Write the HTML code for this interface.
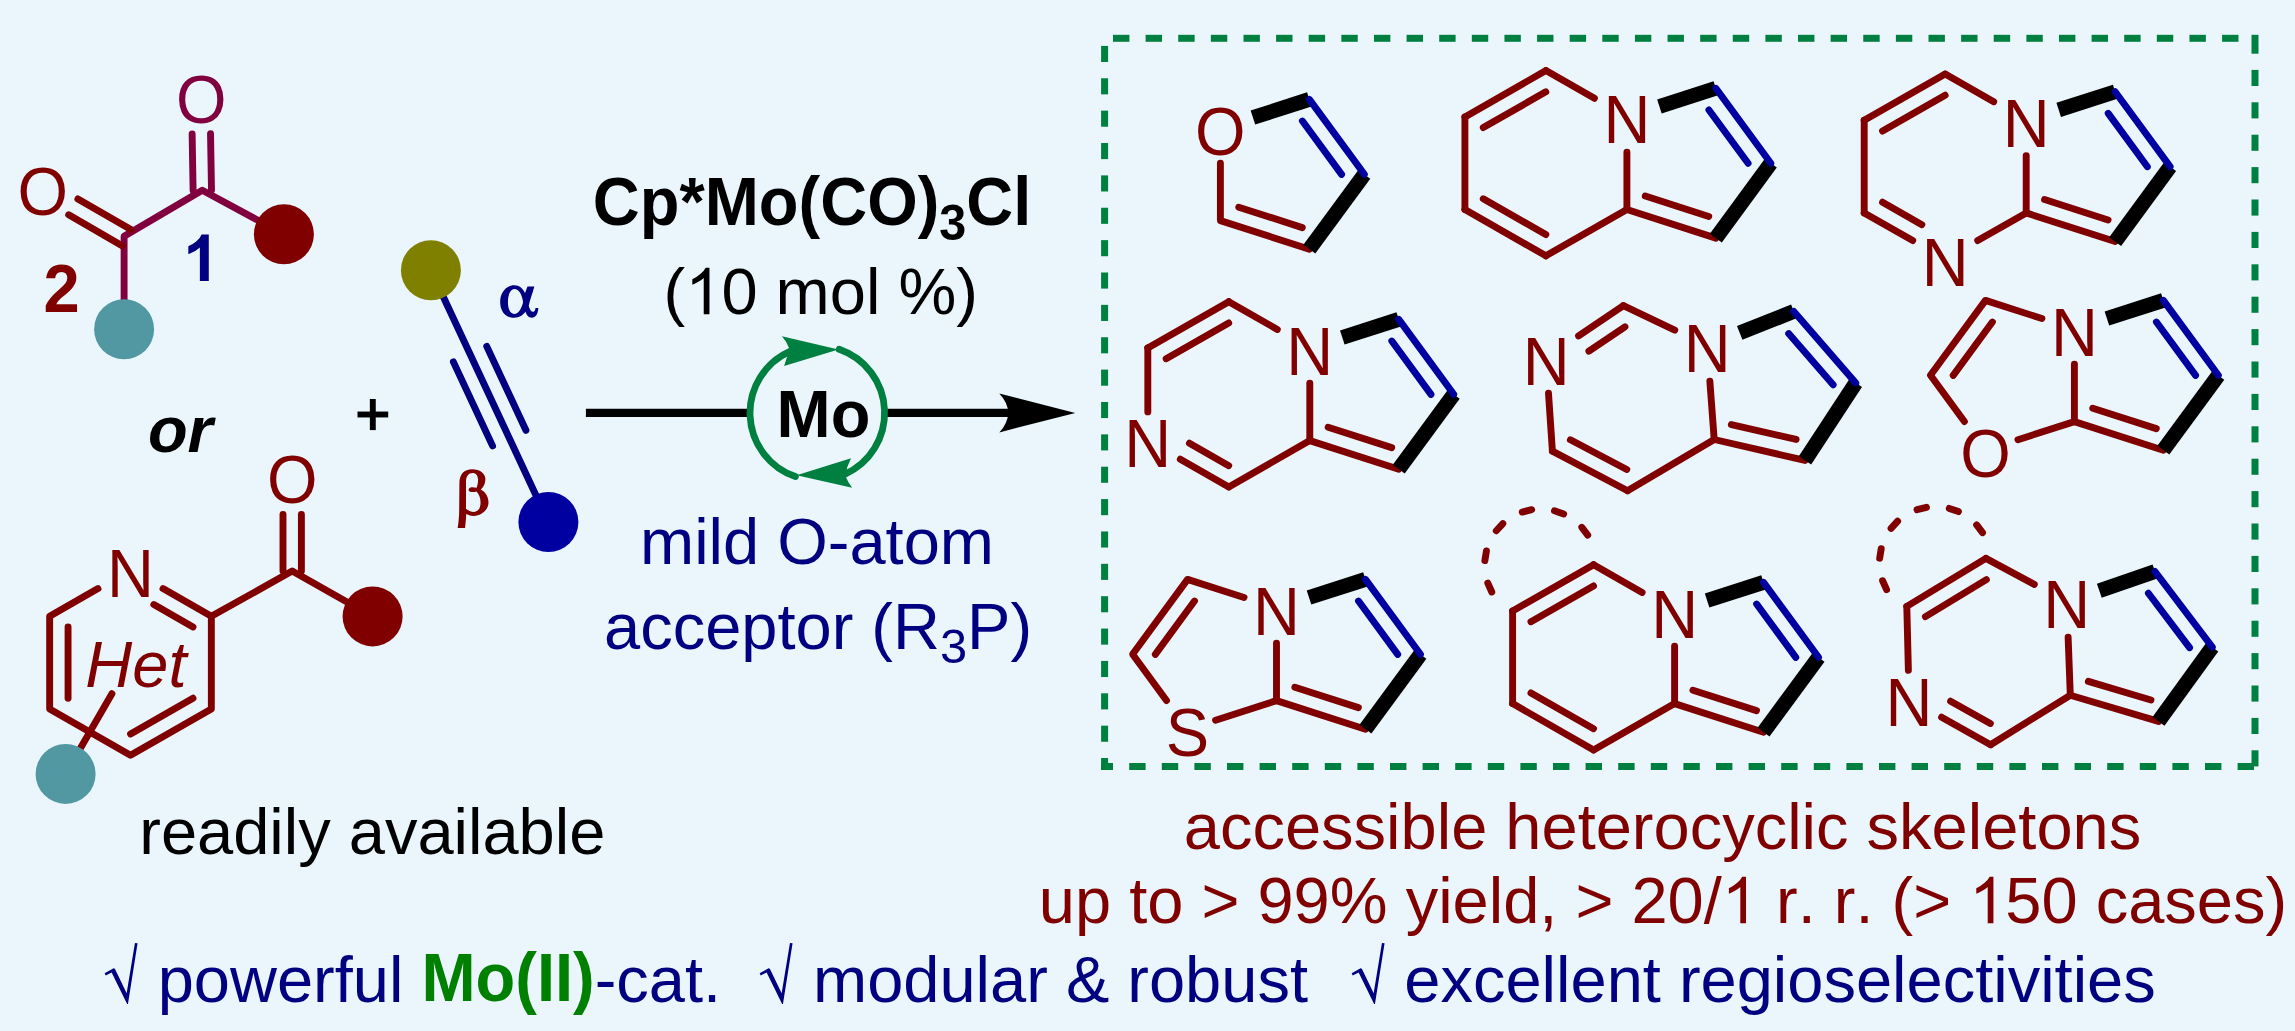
<!DOCTYPE html>
<html><head><meta charset="utf-8"><title>Graphical abstract</title>
<style>html,body{margin:0;padding:0;background:#EAF6FC;}body{width:2295px;height:1031px;overflow:hidden;font-family:"Liberation Sans",sans-serif;}svg{display:block;}text{font-kerning:none;font-variant-ligatures:none;}</style>
</head><body>
<svg width="2295" height="1031" viewBox="0 0 2295 1031">
<rect x="0" y="0" width="2295" height="1031" fill="#EAF6FC"/>
<polyline points="124.1,329.2 124.1,236.2 202.3,190.2 283.9,234.3" fill="none" stroke="#800040" stroke-width="6.9" stroke-linecap="round" stroke-linejoin="round"/>
<line x1="193.1" y1="190.36" x2="192.13" y2="133.96" stroke="#800040" stroke-width="6.9" stroke-linecap="round"/>
<line x1="211.5" y1="190.04" x2="210.52" y2="133.64" stroke="#800040" stroke-width="6.9" stroke-linecap="round"/>
<line x1="122.1" y1="245.67" x2="68.7" y2="214.84" stroke="#800000" stroke-width="6.9" stroke-linecap="round"/>
<line x1="131.3" y1="229.73" x2="77.9" y2="198.9" stroke="#800000" stroke-width="6.9" stroke-linecap="round"/>
<circle cx="283.9" cy="234.3" r="30" fill="#800000"/>
<circle cx="124.1" cy="329.2" r="30" fill="#5298A3"/>
<text x="201.2" y="121.96" fill="#800040" stroke="#800040" stroke-width="0" font-size="65" font-weight="normal" font-style="normal" text-anchor="middle" font-family='"Liberation Sans", sans-serif' transform="translate(0,99.6) scale(1,1.0407) translate(0,-99.6)">O</text>
<text x="42.8" y="214.16" fill="#800000" stroke="#800000" stroke-width="0" font-size="65" font-weight="normal" font-style="normal" text-anchor="middle" font-family='"Liberation Sans", sans-serif' transform="translate(0,191.8) scale(1,1.0407) translate(0,-191.8)">O</text>
<path d="M806 0H525V1059Q371 915 162 846V1101Q272 1137 401 1237.5T578 1472H806V0Z" fill="#000080" transform="translate(183.2,281.1) scale(0.031738,-0.031738)"/>
<text x="61.7" y="311.36" fill="#800000" stroke="#800000" stroke-width="0" font-size="65" font-weight="bold" font-style="normal" text-anchor="middle" font-family='"Liberation Sans", sans-serif' transform="translate(0,289) scale(1,1.0407) translate(0,-289)">2</text>
<text x="180.4" y="452" fill="#000000" stroke="#000000" stroke-width="0" font-size="65" font-weight="bold" font-style="italic" text-anchor="middle" font-family='"Liberation Sans", sans-serif' >or</text>
<rect x="357.5" y="411.55" width="30.7" height="5.9" fill="#000000"/>
<rect x="369.85" y="399" width="5.9" height="31.1" fill="#000000"/>
<polyline points="163,588.61 211.34,616.3 211.34,708.9 130.5,755.2 49.66,708.9 49.66,616.3 98,588.61" fill="none" stroke="#800000" stroke-width="6.9" stroke-linecap="round" stroke-linejoin="round"/>
<line x1="192.98" y1="626.99" x2="153.85" y2="604.58" stroke="#800000" stroke-width="6.9" stroke-linecap="round"/>
<line x1="192.98" y1="698.21" x2="130.57" y2="733.96" stroke="#800000" stroke-width="6.9" stroke-linecap="round"/>
<line x1="68.06" y1="698.28" x2="68.06" y2="626.92" stroke="#800000" stroke-width="6.9" stroke-linecap="round"/>
<polyline points="211.34,616.3 292.2,571.1 372.6,616.4" fill="none" stroke="#800000" stroke-width="6.9" stroke-linecap="round" stroke-linejoin="round"/>
<line x1="283" y1="571.1" x2="283" y2="514.4" stroke="#800000" stroke-width="6.9" stroke-linecap="round"/>
<line x1="301.4" y1="571.1" x2="301.4" y2="514.4" stroke="#800000" stroke-width="6.9" stroke-linecap="round"/>
<line x1="65.6" y1="773.9" x2="111.9" y2="693.71" stroke="#800000" stroke-width="6.9" stroke-linecap="round"/>
<circle cx="372.6" cy="616.4" r="30" fill="#800000"/>
<circle cx="65.6" cy="773.9" r="30" fill="#5298A3"/>
<text x="130.5" y="595.66" fill="#800000" stroke="#800000" stroke-width="0" font-size="65" font-weight="normal" font-style="normal" text-anchor="middle" font-family='"Liberation Sans", sans-serif' transform="translate(0,573.3) scale(1,1.0407) translate(0,-573.3)">N</text>
<text x="292.2" y="502.56" fill="#800000" stroke="#800000" stroke-width="0" font-size="65" font-weight="normal" font-style="normal" text-anchor="middle" font-family='"Liberation Sans", sans-serif' transform="translate(0,480.2) scale(1,1.0407) translate(0,-480.2)">O</text>
<text x="135.9" y="686.6" fill="#800000" stroke="#800000" stroke-width="0" font-size="65" font-weight="normal" font-style="italic" text-anchor="middle" font-family='"Liberation Sans", sans-serif' >Het</text>
<line x1="430.9" y1="270.2" x2="548.4" y2="522" stroke="#000080" stroke-width="6.9" stroke-linecap="round"/>
<line x1="486.74" y1="346.35" x2="525.91" y2="430.29" stroke="#000080" stroke-width="6.9" stroke-linecap="round"/>
<line x1="453.39" y1="361.91" x2="492.56" y2="445.85" stroke="#000080" stroke-width="6.9" stroke-linecap="round"/>
<circle cx="430.9" cy="270.2" r="30" fill="#808000"/>
<circle cx="548.4" cy="522" r="30" fill="#0000A0"/>
<path d="M612,340 L700,340 C680,420 640,520 628,590 C640,640 660,668 685,668 C705,668 712,645 715,620 L752,620 C748,690 720,745 668,745 C625,745 600,710 585,665 C555,715 505,745 440,745 C330,745 260,660 260,540 C260,420 335,325 440,325 C510,325 555,370 580,425 Z M445,375 C395,375 360,440 360,540 C360,640 395,695 445,695 C495,695 535,630 555,545 C545,450 500,375 445,375 Z" fill="#000080" fill-rule="evenodd" transform="translate(480,260) scale(0.077595)"/>
<path d="M182,803 L258,803 C265,740 270,700 270,660 C300,675 325,682 350,680 C420,678 500,620 500,540 C500,480 465,430 420,408 C450,385 468,345 468,300 C468,240 410,198 330,198 C250,198 200,250 200,340 L198,600 C198,680 192,740 182,803 Z M268,605 C290,625 320,638 350,638 C395,638 418,595 418,540 C418,490 400,450 375,428 C350,435 320,435 305,428 C290,420 292,395 310,388 C330,380 355,385 378,388 C388,360 392,335 392,310 C392,265 370,238 335,238 C295,238 270,270 268,320 Z" fill="#800000" fill-rule="evenodd" transform="translate(440,450) scale(0.097012)"/>
<line x1="585.9" y1="412.9" x2="748" y2="412.9" stroke="#000000" stroke-width="8.2" stroke-linecap="butt"/>
<line x1="887" y1="412.9" x2="1012" y2="412.9" stroke="#000000" stroke-width="8.2" stroke-linecap="butt"/>
<path d="M1075.3,412.9 L999.3,393.4 Q1007.5,402.0 1008.4,412.9 Q1007.5,423.79999999999995 999.3,432.4 Z" fill="#000000"/>
<path d="M839.21,349.27 A67.3,67.3 0 0 1 844.67,474.38" fill="none" stroke="#008040" stroke-width="6.8" stroke-linecap="round"/>
<path d="M795.39,476.53 A67.3,67.3 0 0 1 789.93,351.42" fill="none" stroke="#008040" stroke-width="6.8" stroke-linecap="round"/>
<path d="M838.5,349.5 L781.9,336.3 Q787,342 789.1,348.3 Q787.5,357 784.1,366 Z" fill="#008040"/>
<path d="M796.6,475.2 L851,458.2 Q846.5,467 845.3,475.9 Q848,482 852.1,487.7 Z" fill="#008040"/>
<text x="823.5" y="436.7" fill="#000000" stroke="#000000" stroke-width="0" font-size="65" font-weight="bold" font-style="normal" text-anchor="middle" font-family='"Liberation Sans", sans-serif' transform="translate(0,436.7) scale(1,1.0150) translate(0,-436.7)">Mo</text>
<text x="592.8" y="224.8" fill="#000000" font-size="65" font-weight="bold" font-family='"Liberation Sans", sans-serif' transform="translate(0,224.8) scale(1,1.0407) translate(0,-224.8)">Cp*Mo(CO)<tspan font-size="48.5" dy="14.5">3</tspan><tspan dy="-14.5">Cl</tspan></text>
<text x="663.58" y="314.3" fill="#000000" stroke="#000000" stroke-width="0" font-size="65" font-weight="normal" font-style="normal" text-anchor="start" font-family='"Liberation Sans", sans-serif' xml:space="preserve">(</text>
<path d="M763 0H583V1147Q518 1085 412.5 1023T223 930V1104Q373 1174.5 485 1275T644 1470H763V0Z" fill="#000000" transform="translate(685.23,314.3) scale(0.031738,-0.031738)"/>
<text x="721.38" y="314.3" fill="#000000" stroke="#000000" stroke-width="0" font-size="65" font-weight="normal" font-style="normal" text-anchor="start" font-family='"Liberation Sans", sans-serif' xml:space="preserve">0 mol %)</text>
<text x="817" y="563.6" fill="#000080" stroke="#000080" stroke-width="0" font-size="65" font-weight="normal" font-style="normal" text-anchor="middle" font-family='"Liberation Sans", sans-serif' >mild O-atom</text>
<text x="604" y="649.3" fill="#000080" font-size="65" font-family='"Liberation Sans", sans-serif'>acceptor (R<tspan font-size="48.75" dy="14">3</tspan><tspan dy="-14">P)</tspan></text>
<text x="372.3" y="854.2" fill="#000000" stroke="#000000" stroke-width="0" font-size="65" font-weight="normal" font-style="normal" text-anchor="middle" font-family='"Liberation Sans", sans-serif' >readily available</text>
<text x="1662.5" y="848.8" fill="#800000" stroke="#800000" stroke-width="0" font-size="65" font-weight="normal" font-style="normal" text-anchor="middle" font-family='"Liberation Sans", sans-serif' >accessible heterocyclic skeletons</text>
<text x="1038.83" y="923.3" fill="#800000" stroke="#800000" stroke-width="0" font-size="65" font-weight="normal" font-style="normal" text-anchor="start" font-family='"Liberation Sans", sans-serif' xml:space="preserve">up to &gt; 99% yield, &gt; 20/</text>
<path d="M763 0H583V1147Q518 1085 412.5 1023T223 930V1104Q373 1174.5 485 1275T644 1470H763V0Z" fill="#800000" transform="translate(1721.81,923.3) scale(0.031738,-0.031738)"/>
<text x="1757.96" y="923.3" fill="#800000" stroke="#800000" stroke-width="0" font-size="65" font-weight="normal" font-style="normal" text-anchor="start" font-family='"Liberation Sans", sans-serif' xml:space="preserve"> r. r. (&gt; </text>
<path d="M763 0H583V1147Q518 1085 412.5 1023T223 930V1104Q373 1174.5 485 1275T644 1470H763V0Z" fill="#800000" transform="translate(1969.21,923.3) scale(0.031738,-0.031738)"/>
<text x="2005.36" y="923.3" fill="#800000" stroke="#800000" stroke-width="0" font-size="65" font-weight="normal" font-style="normal" text-anchor="start" font-family='"Liberation Sans", sans-serif' xml:space="preserve">50 cases)</text>
<polygon points="104.66,973.37 113.56,968.13 114.87,968.83 126.65,993.26 134.94,942.91 137.56,943.26 127.96,1004 127.09,1004 111.64,972.5 105.71,975.38" fill="#000080"/>
<text x="157.7" y="1001.5" fill="#000080" stroke="#000080" stroke-width="0" font-size="65" font-weight="normal" font-style="normal" text-anchor="start" font-family='"Liberation Sans", sans-serif' >powerful</text>
<text x="421.45" y="1001.5" fill="#008000" stroke="#008000" stroke-width="0" font-size="65" font-weight="bold" font-style="normal" text-anchor="start" font-family='"Liberation Sans", sans-serif' transform="translate(0,1001.5) scale(1,1.0407) translate(0,-1001.5)">Mo(II)</text>
<text x="594.7" y="1001.5" fill="#000080" stroke="#000080" stroke-width="0" font-size="65" font-weight="normal" font-style="normal" text-anchor="start" font-family='"Liberation Sans", sans-serif' >-cat.</text>
<polygon points="759.66,973.37 768.56,968.13 769.87,968.83 781.65,993.26 789.94,942.91 792.56,943.26 782.96,1004 782.09,1004 766.64,972.5 760.71,975.38" fill="#000080"/>
<text x="813" y="1001.5" fill="#000080" stroke="#000080" stroke-width="0" font-size="65" font-weight="normal" font-style="normal" text-anchor="start" font-family='"Liberation Sans", sans-serif' >modular &amp; robust</text>
<polygon points="1351.66,973.37 1360.56,968.13 1361.87,968.83 1373.65,993.26 1381.94,942.91 1384.56,943.26 1374.96,1004 1374.09,1004 1358.64,972.5 1352.71,975.38" fill="#000080"/>
<text x="1404.3" y="1001.5" fill="#000080" stroke="#000080" stroke-width="0" font-size="65" font-weight="normal" font-style="normal" text-anchor="start" font-family='"Liberation Sans", sans-serif' >excellent regioselectivities</text>
<rect x="1113" y="34.8" width="16.4" height="7" fill="#008040"/>
<rect x="1145.62" y="34.8" width="16.4" height="7" fill="#008040"/>
<rect x="1178.24" y="34.8" width="16.4" height="7" fill="#008040"/>
<rect x="1210.86" y="34.8" width="16.4" height="7" fill="#008040"/>
<rect x="1243.48" y="34.8" width="16.4" height="7" fill="#008040"/>
<rect x="1276.1" y="34.8" width="16.4" height="7" fill="#008040"/>
<rect x="1308.72" y="34.8" width="16.4" height="7" fill="#008040"/>
<rect x="1341.34" y="34.8" width="16.4" height="7" fill="#008040"/>
<rect x="1373.96" y="34.8" width="16.4" height="7" fill="#008040"/>
<rect x="1406.58" y="34.8" width="16.4" height="7" fill="#008040"/>
<rect x="1439.2" y="34.8" width="16.4" height="7" fill="#008040"/>
<rect x="1471.82" y="34.8" width="16.4" height="7" fill="#008040"/>
<rect x="1504.44" y="34.8" width="16.4" height="7" fill="#008040"/>
<rect x="1537.06" y="34.8" width="16.4" height="7" fill="#008040"/>
<rect x="1569.68" y="34.8" width="16.4" height="7" fill="#008040"/>
<rect x="1602.3" y="34.8" width="16.4" height="7" fill="#008040"/>
<rect x="1634.92" y="34.8" width="16.4" height="7" fill="#008040"/>
<rect x="1667.54" y="34.8" width="16.4" height="7" fill="#008040"/>
<rect x="1700.16" y="34.8" width="16.4" height="7" fill="#008040"/>
<rect x="1732.78" y="34.8" width="16.4" height="7" fill="#008040"/>
<rect x="1765.4" y="34.8" width="16.4" height="7" fill="#008040"/>
<rect x="1798.02" y="34.8" width="16.4" height="7" fill="#008040"/>
<rect x="1830.64" y="34.8" width="16.4" height="7" fill="#008040"/>
<rect x="1863.26" y="34.8" width="16.4" height="7" fill="#008040"/>
<rect x="1895.88" y="34.8" width="16.4" height="7" fill="#008040"/>
<rect x="1928.5" y="34.8" width="16.4" height="7" fill="#008040"/>
<rect x="1961.12" y="34.8" width="16.4" height="7" fill="#008040"/>
<rect x="1993.74" y="34.8" width="16.4" height="7" fill="#008040"/>
<rect x="2026.36" y="34.8" width="16.4" height="7" fill="#008040"/>
<rect x="2058.98" y="34.8" width="16.4" height="7" fill="#008040"/>
<rect x="2091.6" y="34.8" width="16.4" height="7" fill="#008040"/>
<rect x="2124.22" y="34.8" width="16.4" height="7" fill="#008040"/>
<rect x="2156.84" y="34.8" width="16.4" height="7" fill="#008040"/>
<rect x="2189.46" y="34.8" width="16.4" height="7" fill="#008040"/>
<rect x="2222.08" y="34.8" width="16.4" height="7" fill="#008040"/>
<rect x="2251.5" y="34.8" width="7" height="18.9" fill="#008040"/>
<rect x="2251.5" y="69.9" width="7" height="16.1" fill="#008040"/>
<rect x="2251.5" y="102.3" width="7" height="16.1" fill="#008040"/>
<rect x="2251.5" y="134.7" width="7" height="16.1" fill="#008040"/>
<rect x="2251.5" y="167.1" width="7" height="16.1" fill="#008040"/>
<rect x="2251.5" y="199.5" width="7" height="16.1" fill="#008040"/>
<rect x="2251.5" y="231.9" width="7" height="16.1" fill="#008040"/>
<rect x="2251.5" y="264.3" width="7" height="16.1" fill="#008040"/>
<rect x="2251.5" y="296.7" width="7" height="16.1" fill="#008040"/>
<rect x="2251.5" y="329.1" width="7" height="16.1" fill="#008040"/>
<rect x="2251.5" y="361.5" width="7" height="16.1" fill="#008040"/>
<rect x="2251.5" y="393.9" width="7" height="16.1" fill="#008040"/>
<rect x="2251.5" y="426.3" width="7" height="16.1" fill="#008040"/>
<rect x="2251.5" y="458.7" width="7" height="16.1" fill="#008040"/>
<rect x="2251.5" y="491.1" width="7" height="16.1" fill="#008040"/>
<rect x="2251.5" y="523.5" width="7" height="16.1" fill="#008040"/>
<rect x="2251.5" y="555.9" width="7" height="16.1" fill="#008040"/>
<rect x="2251.5" y="588.3" width="7" height="16.1" fill="#008040"/>
<rect x="2251.5" y="620.7" width="7" height="16.1" fill="#008040"/>
<rect x="2251.5" y="653.1" width="7" height="16.1" fill="#008040"/>
<rect x="2251.5" y="685.5" width="7" height="16.1" fill="#008040"/>
<rect x="2251.5" y="717.9" width="7" height="16.1" fill="#008040"/>
<rect x="2251.5" y="750.3" width="7" height="16.1" fill="#008040"/>
<rect x="1129.2" y="763" width="16.4" height="7" fill="#008040"/>
<rect x="1161.8" y="763" width="16.4" height="7" fill="#008040"/>
<rect x="1194.4" y="763" width="16.4" height="7" fill="#008040"/>
<rect x="1227" y="763" width="16.4" height="7" fill="#008040"/>
<rect x="1259.6" y="763" width="16.4" height="7" fill="#008040"/>
<rect x="1292.2" y="763" width="16.4" height="7" fill="#008040"/>
<rect x="1324.8" y="763" width="16.4" height="7" fill="#008040"/>
<rect x="1357.4" y="763" width="16.4" height="7" fill="#008040"/>
<rect x="1390" y="763" width="16.4" height="7" fill="#008040"/>
<rect x="1422.6" y="763" width="16.4" height="7" fill="#008040"/>
<rect x="1455.2" y="763" width="16.4" height="7" fill="#008040"/>
<rect x="1487.8" y="763" width="16.4" height="7" fill="#008040"/>
<rect x="1520.4" y="763" width="16.4" height="7" fill="#008040"/>
<rect x="1553" y="763" width="16.4" height="7" fill="#008040"/>
<rect x="1585.6" y="763" width="16.4" height="7" fill="#008040"/>
<rect x="1618.2" y="763" width="16.4" height="7" fill="#008040"/>
<rect x="1650.8" y="763" width="16.4" height="7" fill="#008040"/>
<rect x="1683.4" y="763" width="16.4" height="7" fill="#008040"/>
<rect x="1716" y="763" width="16.4" height="7" fill="#008040"/>
<rect x="1748.6" y="763" width="16.4" height="7" fill="#008040"/>
<rect x="1781.2" y="763" width="16.4" height="7" fill="#008040"/>
<rect x="1813.8" y="763" width="16.4" height="7" fill="#008040"/>
<rect x="1846.4" y="763" width="16.4" height="7" fill="#008040"/>
<rect x="1879" y="763" width="16.4" height="7" fill="#008040"/>
<rect x="1911.6" y="763" width="16.4" height="7" fill="#008040"/>
<rect x="1944.2" y="763" width="16.4" height="7" fill="#008040"/>
<rect x="1976.8" y="763" width="16.4" height="7" fill="#008040"/>
<rect x="2009.4" y="763" width="16.4" height="7" fill="#008040"/>
<rect x="2042" y="763" width="16.4" height="7" fill="#008040"/>
<rect x="2074.6" y="763" width="16.4" height="7" fill="#008040"/>
<rect x="2107.2" y="763" width="16.4" height="7" fill="#008040"/>
<rect x="2139.8" y="763" width="16.4" height="7" fill="#008040"/>
<rect x="2172.4" y="763" width="16.4" height="7" fill="#008040"/>
<rect x="2205" y="763" width="16.4" height="7" fill="#008040"/>
<rect x="2237.6" y="763" width="16.4" height="7" fill="#008040"/>
<rect x="1101.1" y="763" width="11.9" height="7" fill="#008040"/>
<rect x="1101.1" y="45.9" width="7" height="16.1" fill="#008040"/>
<rect x="1101.1" y="78.27" width="7" height="16.1" fill="#008040"/>
<rect x="1101.1" y="110.64" width="7" height="16.1" fill="#008040"/>
<rect x="1101.1" y="143.01" width="7" height="16.1" fill="#008040"/>
<rect x="1101.1" y="175.38" width="7" height="16.1" fill="#008040"/>
<rect x="1101.1" y="207.75" width="7" height="16.1" fill="#008040"/>
<rect x="1101.1" y="240.12" width="7" height="16.1" fill="#008040"/>
<rect x="1101.1" y="272.49" width="7" height="16.1" fill="#008040"/>
<rect x="1101.1" y="304.86" width="7" height="16.1" fill="#008040"/>
<rect x="1101.1" y="337.23" width="7" height="16.1" fill="#008040"/>
<rect x="1101.1" y="369.6" width="7" height="16.1" fill="#008040"/>
<rect x="1101.1" y="401.97" width="7" height="16.1" fill="#008040"/>
<rect x="1101.1" y="434.34" width="7" height="16.1" fill="#008040"/>
<rect x="1101.1" y="466.71" width="7" height="16.1" fill="#008040"/>
<rect x="1101.1" y="499.08" width="7" height="16.1" fill="#008040"/>
<rect x="1101.1" y="531.45" width="7" height="16.1" fill="#008040"/>
<rect x="1101.1" y="563.82" width="7" height="16.1" fill="#008040"/>
<rect x="1101.1" y="596.19" width="7" height="16.1" fill="#008040"/>
<rect x="1101.1" y="628.56" width="7" height="16.1" fill="#008040"/>
<rect x="1101.1" y="660.93" width="7" height="16.1" fill="#008040"/>
<rect x="1101.1" y="693.3" width="7" height="16.1" fill="#008040"/>
<rect x="1101.1" y="725.67" width="7" height="16.1" fill="#008040"/>
<rect x="1101.1" y="758" width="7" height="12" fill="#008040"/>
<polyline points="1220.4,163.3 1220.4,220.6 1309.35,249.21" fill="none" stroke="#800000" stroke-width="6.9" stroke-linecap="round" stroke-linejoin="round"/>
<line x1="1238.76" y1="207.18" x2="1302.26" y2="227.61" stroke="#800000" stroke-width="6.9" stroke-linecap="round"/>
<polygon points="1255.17,124.59 1311.61,106.43 1307.08,92.34 1250.63,110.5" fill="#000000"/>
<polygon points="1358.36,169.92 1303.38,244.84 1315.31,253.59 1370.29,178.68" fill="#000000"/>
<line x1="1309.35" y1="99.39" x2="1364.32" y2="174.3" stroke="#0000A0" stroke-width="6.9" stroke-linecap="round"/>
<line x1="1302.42" y1="121.05" x2="1341.58" y2="174.41" stroke="#0000A0" stroke-width="6.9" stroke-linecap="round"/>
<text x="1220.4" y="153.66" fill="#800000" stroke="#800000" stroke-width="0" font-size="65" font-weight="normal" font-style="normal" text-anchor="middle" font-family='"Liberation Sans", sans-serif' transform="translate(0,131.3) scale(1,1.0407) translate(0,-131.3)">O</text>
<line x1="1594.4" y1="98.32" x2="1545.9" y2="70.6" stroke="#800000" stroke-width="6.9" stroke-linecap="round"/>
<line x1="1545.9" y1="70.6" x2="1464.91" y2="116.9" stroke="#800000" stroke-width="6.9" stroke-linecap="round"/>
<line x1="1545.82" y1="91.84" x2="1483.26" y2="127.61" stroke="#800000" stroke-width="6.9" stroke-linecap="round"/>
<line x1="1464.91" y1="116.9" x2="1464.91" y2="209.5" stroke="#800000" stroke-width="6.9" stroke-linecap="round"/>
<line x1="1464.91" y1="209.5" x2="1545.9" y2="255.8" stroke="#800000" stroke-width="6.9" stroke-linecap="round"/>
<line x1="1483.26" y1="198.79" x2="1545.82" y2="234.56" stroke="#800000" stroke-width="6.9" stroke-linecap="round"/>
<line x1="1545.9" y1="255.8" x2="1626.9" y2="209.5" stroke="#800000" stroke-width="6.9" stroke-linecap="round"/>
<line x1="1626.9" y1="209.5" x2="1715.85" y2="238.11" stroke="#800000" stroke-width="6.9" stroke-linecap="round"/>
<line x1="1645.26" y1="196.08" x2="1708.76" y2="216.51" stroke="#800000" stroke-width="6.9" stroke-linecap="round"/>
<line x1="1626.9" y1="209.5" x2="1626.9" y2="152.2" stroke="#800000" stroke-width="6.9" stroke-linecap="round"/>
<polygon points="1661.67,113.49 1718.11,95.33 1713.58,81.24 1657.13,99.4" fill="#000000"/>
<polygon points="1764.86,158.82 1709.88,233.74 1721.81,242.49 1776.79,167.58" fill="#000000"/>
<line x1="1715.85" y1="88.29" x2="1770.82" y2="163.2" stroke="#0000A0" stroke-width="6.9" stroke-linecap="round"/>
<line x1="1708.92" y1="109.95" x2="1748.08" y2="163.31" stroke="#0000A0" stroke-width="6.9" stroke-linecap="round"/>
<text x="1626.9" y="142.56" fill="#800000" stroke="#800000" stroke-width="0" font-size="65" font-weight="normal" font-style="normal" text-anchor="middle" font-family='"Liberation Sans", sans-serif' transform="translate(0,120.2) scale(1,1.0407) translate(0,-120.2)">N</text>
<line x1="1993.7" y1="101.72" x2="1945.2" y2="74" stroke="#800000" stroke-width="6.9" stroke-linecap="round"/>
<line x1="1945.2" y1="74" x2="1864.21" y2="120.3" stroke="#800000" stroke-width="6.9" stroke-linecap="round"/>
<line x1="1945.12" y1="95.24" x2="1882.56" y2="131.01" stroke="#800000" stroke-width="6.9" stroke-linecap="round"/>
<line x1="1864.21" y1="120.3" x2="1864.21" y2="212.9" stroke="#800000" stroke-width="6.9" stroke-linecap="round"/>
<line x1="1864.21" y1="212.9" x2="1912.7" y2="240.62" stroke="#800000" stroke-width="6.9" stroke-linecap="round"/>
<line x1="1882.56" y1="202.19" x2="1921.84" y2="224.65" stroke="#800000" stroke-width="6.9" stroke-linecap="round"/>
<line x1="1977.7" y1="240.62" x2="2026.2" y2="212.9" stroke="#800000" stroke-width="6.9" stroke-linecap="round"/>
<line x1="2026.2" y1="212.9" x2="2115.15" y2="241.51" stroke="#800000" stroke-width="6.9" stroke-linecap="round"/>
<line x1="2044.56" y1="199.48" x2="2108.06" y2="219.91" stroke="#800000" stroke-width="6.9" stroke-linecap="round"/>
<line x1="2026.2" y1="212.9" x2="2026.2" y2="155.6" stroke="#800000" stroke-width="6.9" stroke-linecap="round"/>
<polygon points="2060.97,116.89 2117.41,98.73 2112.88,84.64 2056.43,102.8" fill="#000000"/>
<polygon points="2164.16,162.22 2109.18,237.14 2121.11,245.89 2176.09,170.98" fill="#000000"/>
<line x1="2115.15" y1="91.69" x2="2170.12" y2="166.6" stroke="#0000A0" stroke-width="6.9" stroke-linecap="round"/>
<line x1="2108.22" y1="113.35" x2="2147.38" y2="166.71" stroke="#0000A0" stroke-width="6.9" stroke-linecap="round"/>
<text x="2026.2" y="145.96" fill="#800000" stroke="#800000" stroke-width="0" font-size="65" font-weight="normal" font-style="normal" text-anchor="middle" font-family='"Liberation Sans", sans-serif' transform="translate(0,123.6) scale(1,1.0407) translate(0,-123.6)">N</text>
<text x="1945.2" y="284.86" fill="#800000" stroke="#800000" stroke-width="0" font-size="65" font-weight="normal" font-style="normal" text-anchor="middle" font-family='"Liberation Sans", sans-serif' transform="translate(0,262.5) scale(1,1.0407) translate(0,-262.5)">N</text>
<line x1="1277.3" y1="329.42" x2="1228.8" y2="301.7" stroke="#800000" stroke-width="6.9" stroke-linecap="round"/>
<line x1="1228.8" y1="301.7" x2="1147.81" y2="348" stroke="#800000" stroke-width="6.9" stroke-linecap="round"/>
<line x1="1228.72" y1="322.94" x2="1166.16" y2="358.71" stroke="#800000" stroke-width="6.9" stroke-linecap="round"/>
<line x1="1147.81" y1="348" x2="1147.81" y2="411.9" stroke="#800000" stroke-width="6.9" stroke-linecap="round"/>
<line x1="1180.31" y1="459.18" x2="1228.8" y2="486.9" stroke="#800000" stroke-width="6.9" stroke-linecap="round"/>
<line x1="1189.44" y1="443.2" x2="1228.72" y2="465.66" stroke="#800000" stroke-width="6.9" stroke-linecap="round"/>
<line x1="1228.8" y1="486.9" x2="1309.8" y2="440.6" stroke="#800000" stroke-width="6.9" stroke-linecap="round"/>
<line x1="1309.8" y1="440.6" x2="1398.75" y2="469.21" stroke="#800000" stroke-width="6.9" stroke-linecap="round"/>
<line x1="1328.16" y1="427.18" x2="1391.66" y2="447.61" stroke="#800000" stroke-width="6.9" stroke-linecap="round"/>
<line x1="1309.8" y1="440.6" x2="1309.8" y2="383.3" stroke="#800000" stroke-width="6.9" stroke-linecap="round"/>
<polygon points="1344.57,344.59 1401.01,326.43 1396.48,312.34 1340.03,330.5" fill="#000000"/>
<polygon points="1447.76,389.92 1392.78,464.84 1404.71,473.59 1459.69,398.68" fill="#000000"/>
<line x1="1398.75" y1="319.39" x2="1453.72" y2="394.3" stroke="#0000A0" stroke-width="6.9" stroke-linecap="round"/>
<line x1="1391.82" y1="341.05" x2="1430.98" y2="394.41" stroke="#0000A0" stroke-width="6.9" stroke-linecap="round"/>
<text x="1309.8" y="373.66" fill="#800000" stroke="#800000" stroke-width="0" font-size="65" font-weight="normal" font-style="normal" text-anchor="middle" font-family='"Liberation Sans", sans-serif' transform="translate(0,351.3) scale(1,1.0407) translate(0,-351.3)">N</text>
<text x="1147.81" y="466.26" fill="#800000" stroke="#800000" stroke-width="0" font-size="65" font-weight="normal" font-style="normal" text-anchor="middle" font-family='"Liberation Sans", sans-serif' transform="translate(0,443.9) scale(1,1.0407) translate(0,-443.9)">N</text>
<line x1="1642.1" y1="592.42" x2="1593.6" y2="564.7" stroke="#800000" stroke-width="6.9" stroke-linecap="round"/>
<line x1="1593.6" y1="564.7" x2="1512.61" y2="611" stroke="#800000" stroke-width="6.9" stroke-linecap="round"/>
<line x1="1593.52" y1="585.94" x2="1530.96" y2="621.71" stroke="#800000" stroke-width="6.9" stroke-linecap="round"/>
<line x1="1512.61" y1="611" x2="1512.61" y2="703.6" stroke="#800000" stroke-width="6.9" stroke-linecap="round"/>
<line x1="1512.61" y1="703.6" x2="1593.6" y2="749.9" stroke="#800000" stroke-width="6.9" stroke-linecap="round"/>
<line x1="1530.96" y1="692.89" x2="1593.52" y2="728.66" stroke="#800000" stroke-width="6.9" stroke-linecap="round"/>
<line x1="1593.6" y1="749.9" x2="1674.6" y2="703.6" stroke="#800000" stroke-width="6.9" stroke-linecap="round"/>
<line x1="1674.6" y1="703.6" x2="1763.55" y2="732.21" stroke="#800000" stroke-width="6.9" stroke-linecap="round"/>
<line x1="1692.96" y1="690.18" x2="1756.46" y2="710.61" stroke="#800000" stroke-width="6.9" stroke-linecap="round"/>
<line x1="1674.6" y1="703.6" x2="1674.6" y2="646.3" stroke="#800000" stroke-width="6.9" stroke-linecap="round"/>
<polygon points="1709.37,607.59 1765.81,589.43 1761.28,575.34 1704.83,593.5" fill="#000000"/>
<polygon points="1812.56,652.92 1757.58,727.84 1769.51,736.59 1824.49,661.68" fill="#000000"/>
<line x1="1763.55" y1="582.39" x2="1818.52" y2="657.3" stroke="#0000A0" stroke-width="6.9" stroke-linecap="round"/>
<line x1="1756.62" y1="604.05" x2="1795.78" y2="657.41" stroke="#0000A0" stroke-width="6.9" stroke-linecap="round"/>
<text x="1674.6" y="636.66" fill="#800000" stroke="#800000" stroke-width="0" font-size="65" font-weight="normal" font-style="normal" text-anchor="middle" font-family='"Liberation Sans", sans-serif' transform="translate(0,614.3) scale(1,1.0407) translate(0,-614.3)">N</text>
<line x1="1674.7" y1="330.21" x2="1623.4" y2="305.6" stroke="#800000" stroke-width="6.9" stroke-linecap="round"/>
<line x1="1623.4" y1="305.6" x2="1578.6" y2="335.97" stroke="#800000" stroke-width="6.9" stroke-linecap="round"/>
<line x1="1624.94" y1="326.79" x2="1588.92" y2="351.2" stroke="#800000" stroke-width="6.9" stroke-linecap="round"/>
<line x1="1548.49" y1="393.3" x2="1552.4" y2="451.1" stroke="#800000" stroke-width="6.9" stroke-linecap="round"/>
<line x1="1552.4" y1="451.1" x2="1627.6" y2="490.7" stroke="#800000" stroke-width="6.9" stroke-linecap="round"/>
<line x1="1570.37" y1="439.77" x2="1626.78" y2="469.47" stroke="#800000" stroke-width="6.9" stroke-linecap="round"/>
<line x1="1627.6" y1="490.7" x2="1714.2" y2="439.5" stroke="#800000" stroke-width="6.9" stroke-linecap="round"/>
<line x1="1714.2" y1="439.5" x2="1805" y2="460.4" stroke="#800000" stroke-width="6.9" stroke-linecap="round"/>
<line x1="1731.35" y1="424.57" x2="1796.1" y2="439.47" stroke="#800000" stroke-width="6.9" stroke-linecap="round"/>
<line x1="1714.2" y1="439.5" x2="1709.84" y2="381.1" stroke="#800000" stroke-width="6.9" stroke-linecap="round"/>
<polygon points="1742.43,339.77 1796.53,318.28 1791.07,304.52 1736.97,326.01" fill="#000000"/>
<polygon points="1849.61,378.84 1798.81,456.34 1811.19,464.46 1861.99,386.96" fill="#000000"/>
<line x1="1793.8" y1="311.4" x2="1855.8" y2="382.9" stroke="#0000A0" stroke-width="6.9" stroke-linecap="round"/>
<line x1="1788.66" y1="333.55" x2="1833.14" y2="384.86" stroke="#0000A0" stroke-width="6.9" stroke-linecap="round"/>
<text x="1707.2" y="371.46" fill="#800000" stroke="#800000" stroke-width="0" font-size="65" font-weight="normal" font-style="normal" text-anchor="middle" font-family='"Liberation Sans", sans-serif' transform="translate(0,349.1) scale(1,1.0407) translate(0,-349.1)">N</text>
<text x="1546.1" y="383.66" fill="#800000" stroke="#800000" stroke-width="0" font-size="65" font-weight="normal" font-style="normal" text-anchor="middle" font-family='"Liberation Sans", sans-serif' transform="translate(0,361.3) scale(1,1.0407) translate(0,-361.3)">N</text>
<line x1="2034.3" y1="584.36" x2="1985.9" y2="558.4" stroke="#800000" stroke-width="6.9" stroke-linecap="round"/>
<line x1="1985.9" y1="558.4" x2="1906.8" y2="606.4" stroke="#800000" stroke-width="6.9" stroke-linecap="round"/>
<line x1="1986.37" y1="579.64" x2="1925.42" y2="616.62" stroke="#800000" stroke-width="6.9" stroke-linecap="round"/>
<line x1="1906.8" y1="606.4" x2="1908.39" y2="670.3" stroke="#800000" stroke-width="6.9" stroke-linecap="round"/>
<line x1="1941.6" y1="717.22" x2="1990.6" y2="744.7" stroke="#800000" stroke-width="6.9" stroke-linecap="round"/>
<line x1="1950.6" y1="701.17" x2="1990.34" y2="723.46" stroke="#800000" stroke-width="6.9" stroke-linecap="round"/>
<line x1="1990.6" y1="744.7" x2="2070.3" y2="695.2" stroke="#800000" stroke-width="6.9" stroke-linecap="round"/>
<line x1="2070.3" y1="695.2" x2="2158.5" y2="721.4" stroke="#800000" stroke-width="6.9" stroke-linecap="round"/>
<line x1="2088.35" y1="681.37" x2="2150.93" y2="699.96" stroke="#800000" stroke-width="6.9" stroke-linecap="round"/>
<line x1="2070.3" y1="695.2" x2="2068.12" y2="637.1" stroke="#800000" stroke-width="6.9" stroke-linecap="round"/>
<polygon points="2101.7,597.63 2157.4,578.5 2152.6,564.5 2096.9,583.64" fill="#000000"/>
<polygon points="2206.31,642.86 2152.51,717.06 2164.49,725.74 2218.29,651.54" fill="#000000"/>
<line x1="2155" y1="571.5" x2="2212.3" y2="647.2" stroke="#0000A0" stroke-width="6.9" stroke-linecap="round"/>
<line x1="2148.4" y1="593.26" x2="2189.56" y2="647.65" stroke="#0000A0" stroke-width="6.9" stroke-linecap="round"/>
<text x="2066.8" y="627.46" fill="#800000" stroke="#800000" stroke-width="0" font-size="65" font-weight="normal" font-style="normal" text-anchor="middle" font-family='"Liberation Sans", sans-serif' transform="translate(0,605.1) scale(1,1.0407) translate(0,-605.1)">N</text>
<text x="1909.1" y="724.66" fill="#800000" stroke="#800000" stroke-width="0" font-size="65" font-weight="normal" font-style="normal" text-anchor="middle" font-family='"Liberation Sans", sans-serif' transform="translate(0,702.3) scale(1,1.0407) translate(0,-702.3)">N</text>
<polyline points="2041.9,318.54 1985.45,300.39 1930.48,375.3 1964.39,421.51" fill="none" stroke="#800000" stroke-width="6.9" stroke-linecap="round" stroke-linejoin="round"/>
<line x1="1992.38" y1="322.05" x2="1953.22" y2="375.41" stroke="#800000" stroke-width="6.9" stroke-linecap="round"/>
<line x1="2074.4" y1="421.6" x2="2017.95" y2="439.76" stroke="#800000" stroke-width="6.9" stroke-linecap="round"/>
<line x1="2074.4" y1="421.6" x2="2163.35" y2="450.21" stroke="#800000" stroke-width="6.9" stroke-linecap="round"/>
<line x1="2092.76" y1="408.18" x2="2156.26" y2="428.61" stroke="#800000" stroke-width="6.9" stroke-linecap="round"/>
<line x1="2074.4" y1="421.6" x2="2074.4" y2="364.3" stroke="#800000" stroke-width="6.9" stroke-linecap="round"/>
<polygon points="2109.17,325.59 2165.61,307.43 2161.08,293.34 2104.63,311.5" fill="#000000"/>
<polygon points="2212.36,370.92 2157.38,445.84 2169.31,454.59 2224.29,379.68" fill="#000000"/>
<line x1="2163.35" y1="300.39" x2="2218.32" y2="375.3" stroke="#0000A0" stroke-width="6.9" stroke-linecap="round"/>
<line x1="2156.42" y1="322.05" x2="2195.58" y2="375.41" stroke="#0000A0" stroke-width="6.9" stroke-linecap="round"/>
<text x="2074.4" y="354.66" fill="#800000" stroke="#800000" stroke-width="0" font-size="65" font-weight="normal" font-style="normal" text-anchor="middle" font-family='"Liberation Sans", sans-serif' transform="translate(0,332.3) scale(1,1.0407) translate(0,-332.3)">N</text>
<text x="1985.45" y="475.87" fill="#800000" stroke="#800000" stroke-width="0" font-size="65" font-weight="normal" font-style="normal" text-anchor="middle" font-family='"Liberation Sans", sans-serif' transform="translate(0,453.51) scale(1,1.0407) translate(0,-453.51)">O</text>
<polyline points="1244,597.54 1187.55,579.39 1132.58,654.3 1166.49,700.51" fill="none" stroke="#800000" stroke-width="6.9" stroke-linecap="round" stroke-linejoin="round"/>
<line x1="1194.48" y1="601.05" x2="1155.32" y2="654.41" stroke="#800000" stroke-width="6.9" stroke-linecap="round"/>
<line x1="1276.5" y1="700.6" x2="1215.55" y2="720.21" stroke="#800000" stroke-width="6.9" stroke-linecap="round"/>
<line x1="1276.5" y1="700.6" x2="1365.45" y2="729.21" stroke="#800000" stroke-width="6.9" stroke-linecap="round"/>
<line x1="1294.86" y1="687.18" x2="1358.36" y2="707.61" stroke="#800000" stroke-width="6.9" stroke-linecap="round"/>
<line x1="1276.5" y1="700.6" x2="1276.5" y2="643.3" stroke="#800000" stroke-width="6.9" stroke-linecap="round"/>
<polygon points="1311.27,604.59 1367.71,586.43 1363.18,572.34 1306.73,590.5" fill="#000000"/>
<polygon points="1414.46,649.92 1359.48,724.84 1371.41,733.59 1426.39,658.68" fill="#000000"/>
<line x1="1365.45" y1="579.39" x2="1420.42" y2="654.3" stroke="#0000A0" stroke-width="6.9" stroke-linecap="round"/>
<line x1="1358.52" y1="601.05" x2="1397.68" y2="654.41" stroke="#0000A0" stroke-width="6.9" stroke-linecap="round"/>
<text x="1276.5" y="633.66" fill="#800000" stroke="#800000" stroke-width="0" font-size="65" font-weight="normal" font-style="normal" text-anchor="middle" font-family='"Liberation Sans", sans-serif' transform="translate(0,611.3) scale(1,1.0407) translate(0,-611.3)">N</text>
<text x="1187.55" y="754.87" fill="#800000" stroke="#800000" stroke-width="0" font-size="65" font-weight="normal" font-style="normal" text-anchor="middle" font-family='"Liberation Sans", sans-serif' transform="translate(0,732.51) scale(1,1.0407) translate(0,-732.51)">S</text>
<line x1="1587.72" y1="535.07" x2="1581.84" y2="527.32" stroke="#800000" stroke-width="6.9" stroke-linecap="round"/>
<line x1="1563.64" y1="514.02" x2="1554.47" y2="510.78" stroke="#800000" stroke-width="6.9" stroke-linecap="round"/>
<line x1="1531.67" y1="509.7" x2="1522.24" y2="512.07" stroke="#800000" stroke-width="6.9" stroke-linecap="round"/>
<line x1="1502.87" y1="523.59" x2="1496.29" y2="530.75" stroke="#800000" stroke-width="6.9" stroke-linecap="round"/>
<line x1="1486.43" y1="551.02" x2="1484.86" y2="560.62" stroke="#800000" stroke-width="6.9" stroke-linecap="round"/>
<line x1="1487.8" y1="583.15" x2="1491.79" y2="592.02" stroke="#800000" stroke-width="6.9" stroke-linecap="round"/>
<line x1="1982.52" y1="532.67" x2="1976.64" y2="524.92" stroke="#800000" stroke-width="6.9" stroke-linecap="round"/>
<line x1="1958.44" y1="511.62" x2="1949.27" y2="508.38" stroke="#800000" stroke-width="6.9" stroke-linecap="round"/>
<line x1="1926.47" y1="507.3" x2="1917.04" y2="509.67" stroke="#800000" stroke-width="6.9" stroke-linecap="round"/>
<line x1="1897.67" y1="521.19" x2="1891.09" y2="528.35" stroke="#800000" stroke-width="6.9" stroke-linecap="round"/>
<line x1="1881.23" y1="548.62" x2="1879.66" y2="558.22" stroke="#800000" stroke-width="6.9" stroke-linecap="round"/>
<line x1="1882.6" y1="580.75" x2="1886.59" y2="589.62" stroke="#800000" stroke-width="6.9" stroke-linecap="round"/>
</svg>
</body></html>
